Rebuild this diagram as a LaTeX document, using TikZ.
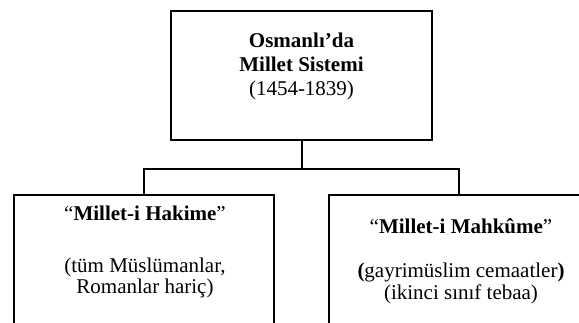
\documentclass[tikz,border=0pt]{standalone}
\usepackage{fontspec}
\setmainfont{Liberation Serif}
\usepackage{tikz}
\usetikzlibrary{positioning,calc}

\tikzset{
	orgbox/.style = {draw, line width=2pt, minimum width=260pt, inner sep=0pt},
	boxtext/.style = {align=center, inner sep=0pt, anchor=north},
	conn/.style = {line width=2pt},
}

\begin{document}
\begin{tikzpicture}[x=1pt, y=-1pt]
	\useasboundingbox (0,0) rectangle (579,322);
	\clip (0,0) rectangle (579,322);
	% boxes
	\node[orgbox, minimum width=261pt, minimum height=129pt] (sistem) at (301.5,75.5) {};
	\node[orgbox, minimum height=170pt] (hakime) at (144,280) {};
	\node[orgbox, minimum height=170pt] (mahkume) at (459,280) {};
	% texts
	\node[boxtext, font=\fontsize{21}{24}\selectfont] (sistemtxt) at (301.5,33)
		{\textbf{Osmanlı’da}\\ \textbf{Millet Sistemi}\\ (1454-1839)};
	\node[boxtext, font=\fontsize{21}{21.5}\selectfont] (hakimetxt) at (145,206)
		{“\textbf{Millet-i Hakime}”\\[30pt] (tüm Müslümanlar,\\ Romanlar hariç)};
	\node[boxtext, font=\fontsize{21}{21.5}\selectfont] (mahkumetxt) at (461,218)
		{“\textbf{Millet-i Mahkûme}”\\[23pt] \textbf{(}gayrimüslim cemaatler\textbf{)}\\ (ikinci sınıf tebaa)};
	% connectors
	\draw[conn] (sistem.south) -- ++(0,28) coordinate (split);
	\draw[conn] (hakime.north) |- (split) -| (mahkume.north);
\end{tikzpicture}
\end{document}
